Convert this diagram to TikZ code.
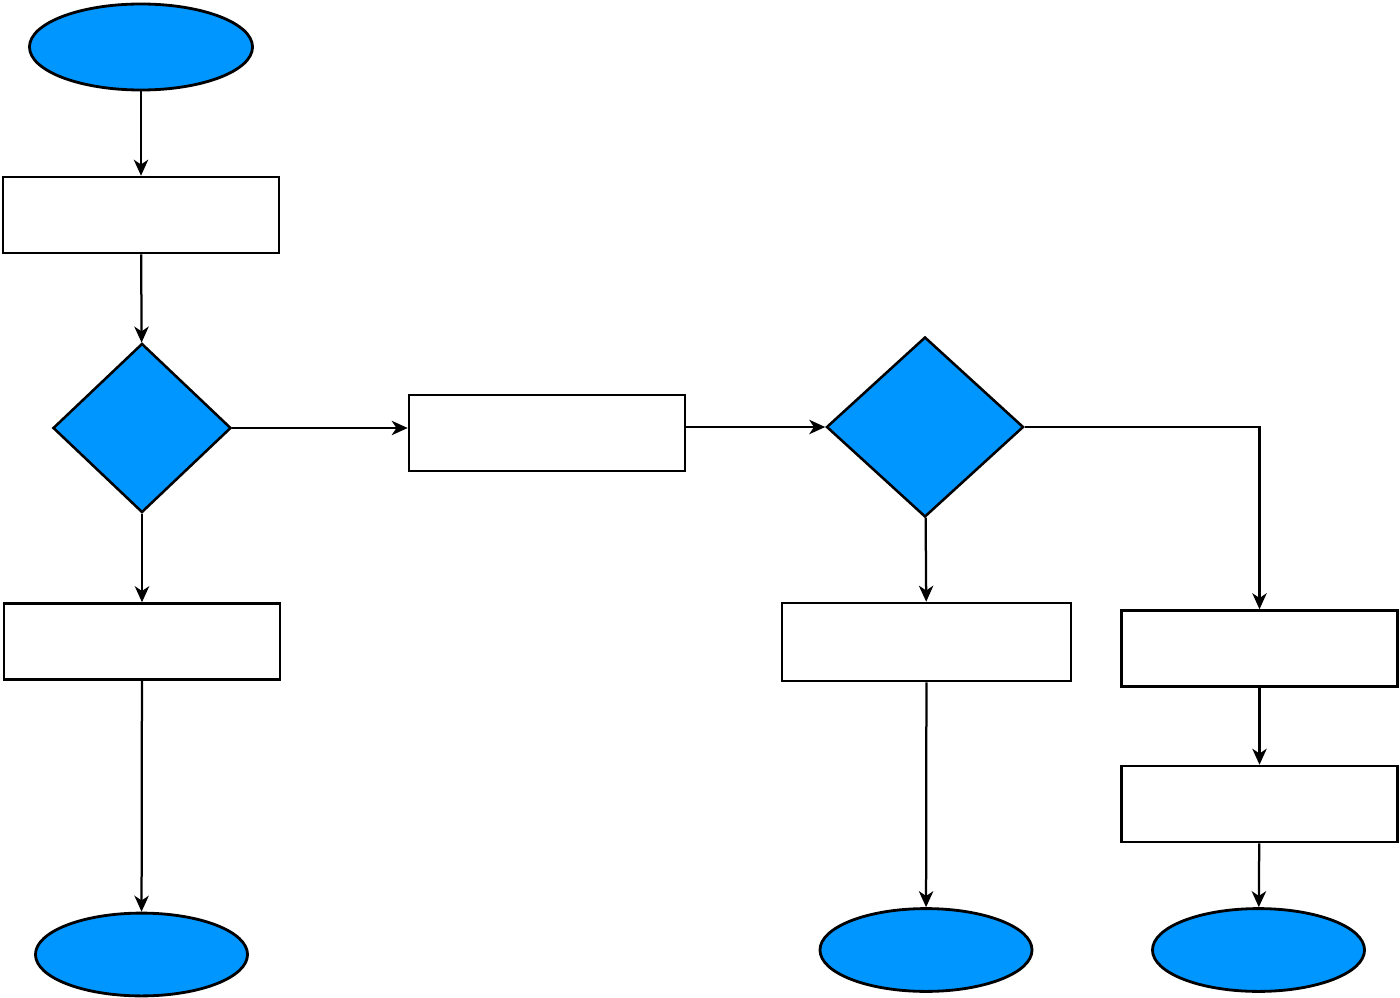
\documentclass[tikz,border=0pt]{standalone}
\usepackage{xcolor}
\definecolor{flowblue}{HTML}{0096FF}
\usepackage{tikz}
\usetikzlibrary{arrows.meta, shapes.geometric}

\begin{document}
\begin{tikzpicture}[x=0.025cm, y=-0.025cm,
  term/.style={ellipse, draw=black, line width=2pt, fill=flowblue,
               minimum width=5.3cm, minimum height=2.07cm, inner sep=0pt},
  stepbox/.style={rectangle, draw=black, line width=1.8pt, fill=white,
               minimum width=6.9cm, minimum height=1.9cm, inner sep=0pt},
  choice/.style={diamond, draw=black, line width=1.8pt, fill=flowblue, inner sep=0pt},
  arr/.style={-{Stealth[length=4mm, width=3.6mm, inset=1.2mm]}, line width=1.6pt}]
  \useasboundingbox (0,0) rectangle (1400,998);
  \node[term, minimum width=5.575cm, minimum height=2.15cm] (start) at (141,47) {};
  \node[stepbox] (read) at (141,215) {};
  \node[choice, minimum width=4.45cm, minimum height=4.225cm] (dec1) at (142,428) {};
  \node[stepbox] (mid) at (547,433) {};
  \node[choice, minimum width=4.925cm, minimum height=4.5cm] (dec2) at (925,427) {};
  \node[stepbox] (left) at (142,641.5) {};
  \node[stepbox, minimum width=7.225cm, minimum height=1.95cm] (center) at (926.5,642) {};
  \node[stepbox] (right1) at (1259.5,648.5) {};
  \node[stepbox] (right2) at (1259.5,804) {};
  \node[term] (end1) at (141.5,954.5) {};
  \node[term] (end2) at (926,950) {};
  \node[term] (end3) at (1258.5,950) {};
  \draw[arr] (start) -- (read);
  \draw[arr] (read) -- (dec1);
  \draw[arr] (dec1) -- (dec1 -| mid.west);
  \draw[arr] (mid.east |- dec2) -- (dec2.west);
  \draw[arr] (dec2.east) -| (right1.north);
  \draw[arr] (dec1) -- (left);
  \draw[arr] (dec2) -- (center);
  \draw[arr] (left) -- (end1);
  \draw[arr] (center) -- (end2);
  \draw[arr] (right1) -- (right2);
  \draw[arr] (right2) -- (end3);
\end{tikzpicture}
\end{document}
